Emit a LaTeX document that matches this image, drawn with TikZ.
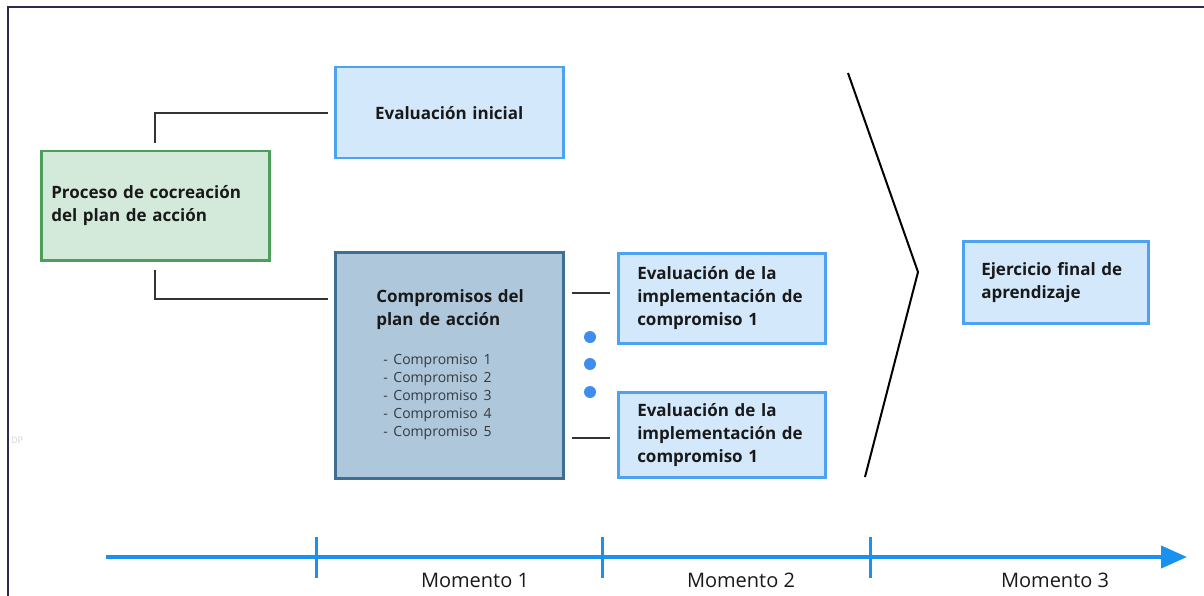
\documentclass[tikz,border=0pt]{standalone}
\usepackage{fontspec}
\setmainfont{Open Sans}
\usetikzlibrary{arrows.meta,positioning}

\definecolor{greenfill}{HTML}{D3E9DA}
\definecolor{greenline}{HTML}{4C9F5A}
\definecolor{evalfill}{HTML}{D3E8FB}
\definecolor{evalline}{HTML}{4DA3F2}
\definecolor{compfill}{HTML}{AFC7DB}
\definecolor{compline}{HTML}{3F6E93}
\definecolor{timeblue}{HTML}{1A90F0}
\definecolor{dotblue}{HTML}{3F8EEE}
\definecolor{framecol}{HTML}{2E2A4F}
\definecolor{listgray}{HTML}{333A40}

\begin{document}
\begin{tikzpicture}[x=1pt,y=-1pt,
  box/.style={draw, line width=2.5pt, anchor=north west, align=left, inner ysep=0pt,
    font=\fontsize{17}{23}\selectfont\bfseries, text=black!90},
  green box/.style={box, draw=greenline, fill=greenfill},
  blue box/.style={box, draw=evalline, fill=evalfill},
  comp box/.style={box, draw=compline, fill=compfill},
  link/.style={line width=2pt, draw=black!80},
  dot/.style={circle, fill=dotblue, minimum size=12pt, inner sep=0pt},
  moment/.style={font=\fontsize{20}{24}\selectfont, text=black!90},
]
\useasboundingbox (0,0) rectangle (1204,596);
\draw[framecol, line width=2pt] (1204,7) -- (8,7) -- (8,596);
\node[text=gray!35, font=\fontsize{9}{9}\selectfont] (dp) at (17,440) {DP};

% left side
\node[green box, minimum width=228, minimum height=109, inner xsep=10, text width=208]
  (cocreacion) at (40,150) {Proceso de cocreación\\del plan de acción};
\node[blue box, minimum width=228, minimum height=91, inner xsep=10, text width=208, align=center]
  (inicial) at (334,66) {Evaluación inicial};
\node[comp box, minimum width=228, minimum height=226, inner xsep=30, text width=168]
  (compromisos) at (334,251) {\leftskip=11pt Compromisos del\\plan de acción\\[16pt]%
  \hspace*{18pt}{\fontsize{14}{18}\selectfont\mdseries\color{listgray}%
  \begin{tabular}[t]{@{}l@{}}
  - Compromiso 1\\
  - Compromiso 2\\
  - Compromiso 3\\
  - Compromiso 4\\
  - Compromiso 5
  \end{tabular}}};

\draw[link] ([yshift=7pt]cocreacion.north) |- ([xshift=-6pt]inicial.west);
\draw[link] ([yshift=-8pt]cocreacion.south) |- ([xshift=-6pt,yshift=66pt]compromisos.west);

% momento 2
\node[blue box, minimum width=207, minimum height=90, inner xsep=19, text width=169]
  (impl1) at (617,252) {Evaluación de la\\implementación de\\compromiso 1};
\node[blue box, minimum width=207, minimum height=85, inner xsep=19, text width=169]
  (impl2) at (617,391) {Evaluación de la\\implementación de\\compromiso 1};

\draw[link] ([xshift=7pt,yshift=5pt]compromisos.east |- impl1.west) -- ([xshift=-7pt,yshift=5pt]impl1.west);
\draw[link] ([xshift=7pt,yshift=-3pt]compromisos.east |- impl2.west) -- ([xshift=-7pt,yshift=-3pt]impl2.west);

\foreach \y [count=\i] in {337,364,392}
  \node[dot] (dot\i) at (590,\y) {};

% momento 3
\draw[line width=2pt] (848,73) -- (918,272) -- (865,477);
\node[blue box, minimum width=185, minimum height=82, inner xsep=18, text width=149]
  (ejercicio) at (962,240) {Ejercicio final de\\aprendizaje};

% timeline
\draw[timeblue, line width=4pt, -{Triangle[length=26pt,width=22pt]}] (106,557) -- (1187,557);
\foreach \x in {316,602,870}
  \draw[timeblue, line width=3pt] (\x,537) -- (\x,578);
\node[moment] (m1) at (475,580) {Momento 1};
\node[moment] (m2) at (741,580) {Momento 2};
\node[moment] (m3) at (1055,580) {Momento 3};
\end{tikzpicture}
\end{document}
